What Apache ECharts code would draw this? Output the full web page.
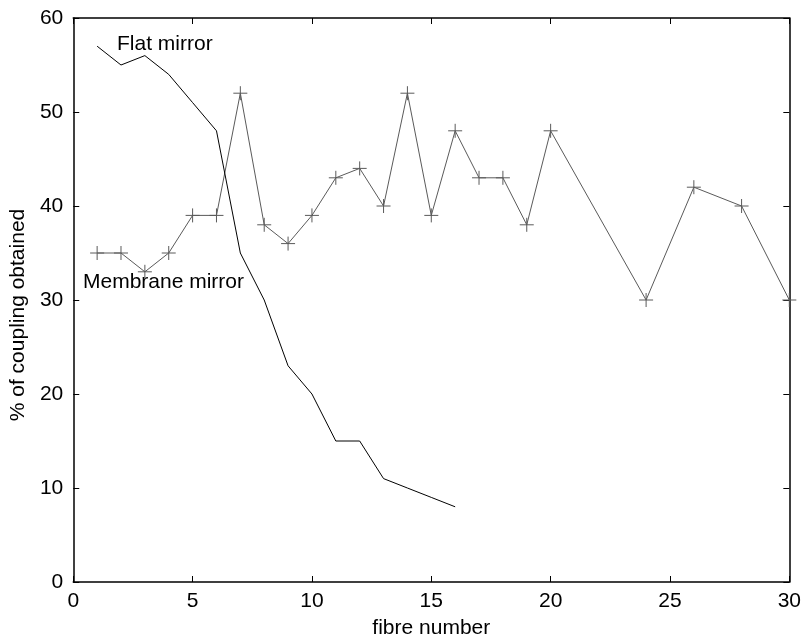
<!DOCTYPE html>
<html>
<head>
<meta charset="utf-8">
<script src="https://cdn.jsdelivr.net/npm/echarts@6/dist/echarts.min.js"></script>
<style>
  html, body { margin: 0; padding: 0; background: #fff; }
  #chart { width: 804px; height: 644px; }
</style>
</head>
<body>
<div id="chart"></div>
<script>
var flatFibre = [1, 2, 3, 4, 5, 6, 7, 8, 9, 10, 11, 12, 13, 14, 15, 16];
var flatCoupling = [57, 55, 56, 54, 51, 48, 35, 30, 23, 20, 15, 15, 11, 10, 9, 8];

var membraneFibre = [1, 2, 3, 4, 5, 6, 7, 8, 9, 10, 11, 12, 13, 14, 15, 16, 17, 18, 19, 20, 24, 26, 28, 30];
var membraneCoupling = [35, 35, 33, 35, 39, 39, 52, 38, 36, 39, 43, 44, 40, 52, 39, 48, 43, 43, 38, 48, 30, 42, 40, 30];

function pairs(xs, ys) {
    var res = [];
    for (var i = 0; i < xs.length; i++) {
        res.push([xs[i], ys[i]]);
    }
    return res;
}

var font = 'Liberation Sans, Arial, sans-serif';
var chart = echarts.init(document.getElementById('chart'));

var axisLine = { show: true, onZero: false, lineStyle: { color: '#000', width: 1.5 } };
var tick = { show: true, inside: true, length: 6, lineStyle: { color: '#000' } };

var option = {
    backgroundColor: '#fff',
    animation: false,
    grid: { left: 72, top: 18, right: 13, bottom: 61 },
    xAxis: [{
        type: 'value',
        min: 0, max: 30, interval: 5,
        name: 'fibre number',
        nameLocation: 'middle',
        nameGap: 36,
        nameTextStyle: { fontFamily: font, fontSize: 21, color: '#000' },
        axisLine: axisLine,
        axisTick: tick,
        axisLabel: { fontFamily: font, fontSize: 21, color: '#000', margin: 9 },
        splitLine: { show: false }
    }, {
        type: 'value',
        position: 'top',
        min: 0, max: 30, interval: 5,
        axisLine: axisLine,
        axisTick: tick,
        axisLabel: { show: false },
        splitLine: { show: false }
    }],
    yAxis: [{
        type: 'value',
        min: 0, max: 60, interval: 10,
        name: '% of coupling obtained',
        nameLocation: 'middle',
        nameGap: 36,
        nameTextStyle: { fontFamily: font, fontSize: 21, color: '#000', padding: [0, 30, 0, 0] },
        axisLine: axisLine,
        axisTick: tick,
        axisLabel: { fontFamily: font, fontSize: 21, color: '#000', margin: 10 },
        splitLine: { show: false }
    }, {
        type: 'value',
        position: 'right',
        min: 0, max: 60, interval: 10,
        axisLine: axisLine,
        axisTick: tick,
        axisLabel: { show: false },
        splitLine: { show: false }
    }],
    graphic: [{
        type: 'text',
        left: 117, top: 34,
        style: { text: 'Flat mirror', font: '21px ' + font, fill: '#000' }
    }, {
        type: 'text',
        left: 83, top: 272,
        style: { text: 'Membrane mirror', font: '21px ' + font, fill: '#000' }
    }],
    series: [{
        name: 'Flat mirror',
        type: 'line',
        data: pairs(flatFibre, flatCoupling),
        showSymbol: false,
        symbol: 'none',
        lineStyle: { color: '#000', width: 1 },
        z: 3
    }, {
        name: 'Membrane mirror',
        type: 'line',
        data: pairs(membraneFibre, membraneCoupling),
        symbol: 'path://M0,-1L0,1M-1,0L1,0',
        symbolSize: 14,
        itemStyle: { color: '#5a5a5a', borderColor: '#5a5a5a', borderWidth: 1 },
        lineStyle: { color: '#5a5a5a', width: 1 },
        z: 2
    }]
};
chart.setOption(option);
</script>
</body>
</html>
